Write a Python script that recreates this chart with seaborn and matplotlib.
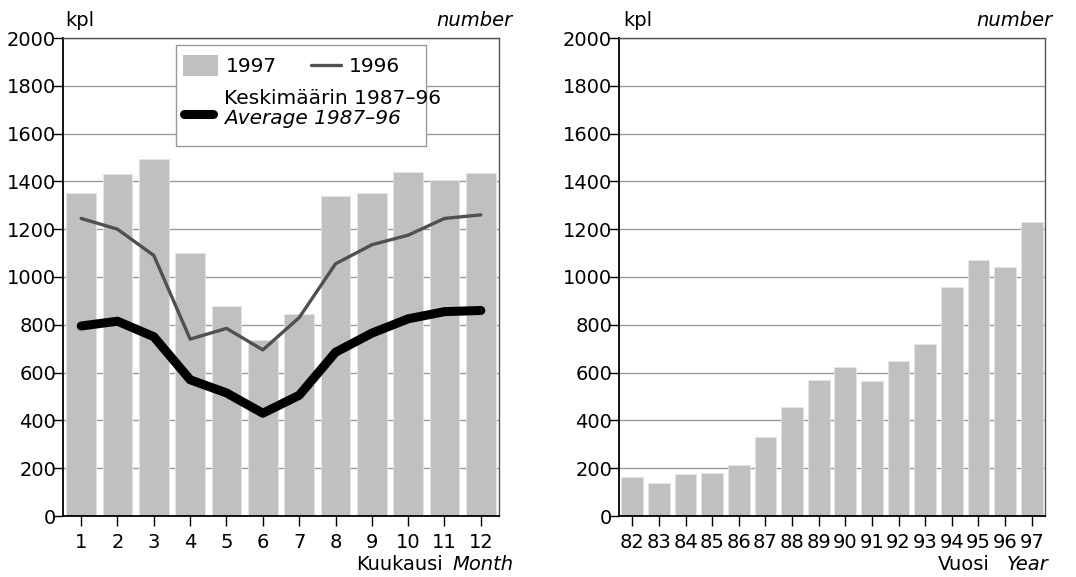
import matplotlib
matplotlib.use("Agg")
import matplotlib.pyplot as plt
from matplotlib.patches import Rectangle
from matplotlib.lines import Line2D
import numpy as np
import pandas as pd
import seaborn as sns

# ---- data ----
months = ["1", "2", "3", "4", "5", "6", "7", "8", "9", "10", "11", "12"]
vals_1997 = [1350, 1430, 1495, 1100, 880, 735, 845, 1340, 1350, 1440, 1405, 1435]
vals_1996 = [1245, 1200, 1090, 740, 785, 695, 830, 1055, 1135, 1175, 1245, 1260]
vals_avg = [795, 815, 750, 570, 515, 430, 505, 685, 765, 825, 855, 860]

years = ["82", "83", "84", "85", "86", "87", "88", "89", "90", "91", "92", "93", "94", "95", "96", "97"]
vals_years = [165, 140, 175, 180, 215, 330, 455, 570, 625, 565, 650, 720, 960, 1070, 1040, 1230]

yticks = [0, 200, 400, 600, 800, 1000, 1200, 1400, 1600, 1800, 2000]

BAR = "#c0c0c0"
L96 = "#505050"
FS = 14
FSL = 14.5

sns.set_theme(style="white")
plt.rcParams["font.family"] = ["DejaVu Sans"]
plt.rcParams["text.color"] = "black"
plt.rcParams["xtick.color"] = "black"
plt.rcParams["ytick.color"] = "black"
plt.rcParams["axes.labelcolor"] = "black"

fig = plt.figure(figsize=(10.76, 5.77), dpi=100)
W, H = 1076, 577


def ax_rect(x0, x1, ytop, ybot):
    return [x0 / W, 1 - ybot / H, (x1 - x0) / W, (ybot - ytop) / H]


ax1 = fig.add_axes(ax_rect(63, 499, 38, 516))
ax2 = fig.add_axes(ax_rect(619, 1045, 38, 516))

df_m = pd.DataFrame({"month": months, "v97": vals_1997, "v96": vals_1996, "avg": vals_avg})
df_y = pd.DataFrame({"year": years, "v": vals_years})

sns.barplot(data=df_m, x="month", y="v97", color=BAR, saturation=1, width=0.82,
            edgecolor="#e4e4e4", linewidth=0.6, ax=ax1, zorder=2)
xpos = np.arange(len(months))
sns.lineplot(x=xpos, y=df_m["v96"], color=L96, linewidth=2.4, ax=ax1, zorder=3)
sns.lineplot(x=xpos, y=df_m["avg"], color="black", linewidth=6.5, ax=ax1, zorder=4)

sns.barplot(data=df_y, x="year", y="v", color=BAR, saturation=1, width=0.82,
            edgecolor="#e4e4e4", linewidth=0.6, ax=ax2, zorder=2)

for ax, n in ((ax1, len(months)), (ax2, len(years))):
    ax.set_xlim(-0.5, n - 0.5)
    ax.set_ylim(0, 2000)
    ax.set_yticks(yticks)
    ax.set_yticklabels([str(t) for t in yticks], fontsize=FS, color="black")
    ax.set_xlabel("")
    ax.set_ylabel("")
    ax.grid(axis="y", color="#9a9a9a", linewidth=1.0, zorder=0)
    ax.grid(axis="x", visible=False)
    ax.set_axisbelow(True)
    ax.tick_params(axis="y", direction="out", length=7, width=1, color="black", pad=-2,
                   labelsize=FS, labelcolor="black", left=True)
    ax.tick_params(axis="x", direction="out", length=7.5, width=1, color="black", pad=5,
                   labelsize=FS, labelcolor="black", bottom=True)
    for s in ("left", "bottom"):
        ax.spines[s].set_color("black")
        ax.spines[s].set_linewidth(1.3)
    for s in ("top", "right"):
        ax.spines[s].set_color("#555555")
        ax.spines[s].set_linewidth(1.0)
    for s in ax.spines.values():
        s.set_zorder(5)

# headers
for xl, xr in ((65, 512), (623, 1052)):
    fig.text(xl / W, 1 - 20 / H, "kpl", fontsize=FS, ha="left", va="center")
    fig.text(xr / W, 1 - 20 / H, "number", fontsize=FS, style="italic", ha="right", va="center")

# x-axis titles
fig.text(514 / W, 1 - 565 / H, "Month", fontsize=FS, style="italic", ha="right", va="center")
fig.text(443 / W, 1 - 565 / H, "Kuukausi", fontsize=FS, ha="right", va="center")
fig.text(938 / W, 1 - 565 / H, "Vuosi", fontsize=FS, ha="left", va="center")
fig.text(1007 / W, 1 - 565 / H, "Year", fontsize=FS, style="italic", ha="left", va="center")

# legend (manual layout inside left axes)
def fx(px):
    return (px - 63) / 436


def fy(py):
    return (516 - py) / 478


T = ax1.transAxes
ax1.add_patch(Rectangle((fx(176), fy(146)), fx(426) - fx(176), fy(45) - fy(146), transform=T,
                        facecolor="white", edgecolor="#999999", linewidth=1.0, zorder=10))
ax1.add_patch(Rectangle((fx(183), fy(76)), fx(218) - fx(183), fy(55) - fy(76), transform=T,
                        facecolor=BAR, edgecolor="none", zorder=11))
ax1.text(fx(226), fy(66), "1997", transform=T, fontsize=FSL, ha="left", va="center", zorder=11)
ax1.add_line(Line2D([fx(311), fx(341)], [fy(65), fy(65)], transform=T, color=L96, linewidth=2.4,
                    solid_capstyle="round", zorder=11))
ax1.text(fx(349), fy(66), "1996", transform=T, fontsize=FSL, ha="left", va="center", zorder=11)
ax1.add_line(Line2D([fx(184), fx(213)], [fy(114), fy(114)], transform=T, color="black", linewidth=6.5,
                    solid_capstyle="round", zorder=11))
ax1.text(fx(224), fy(99), "Keskimäärin 1987–96", transform=T, fontsize=FSL, ha="left", va="center", zorder=11)
ax1.text(fx(224), fy(119), "Average 1987–96", transform=T, fontsize=FSL, style="italic",
         ha="left", va="center", zorder=11)

fig.savefig("out.png", dpi=100)
